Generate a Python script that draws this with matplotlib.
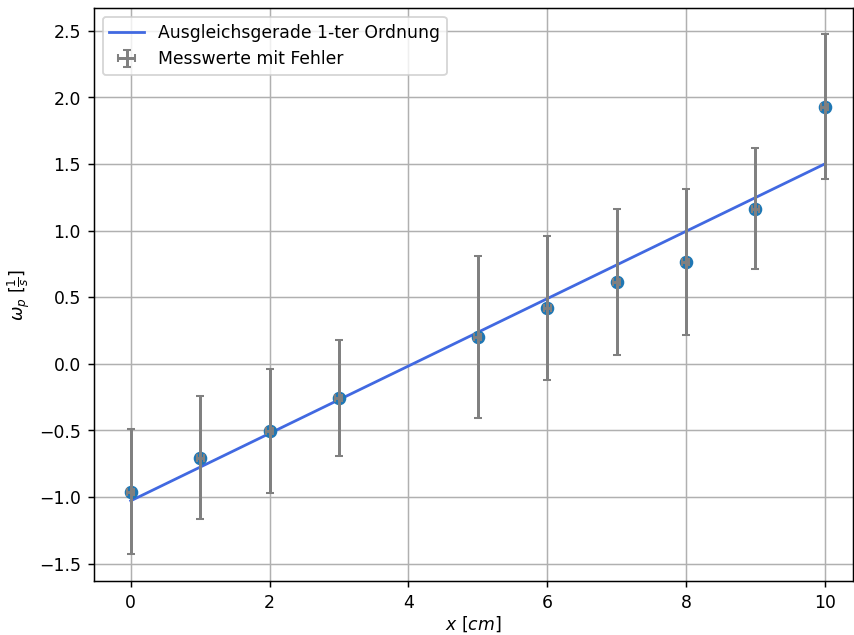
import numpy as np
import matplotlib
matplotlib.use("Agg")
import matplotlib.pyplot as plt

# Messwerte
x = np.array([0, 1, 2, 3, 5, 6, 7, 8, 9, 10])
omega = np.array([-0.96, -0.705, -0.503, -0.255, 0.203, 0.42, 0.615, 0.765, 1.163, 1.929])
omega_err = np.array([0.47, 0.46, 0.465, 0.435, 0.61, 0.54, 0.545, 0.545, 0.455, 0.545])
x_err = np.array([0.05] * 10)

# Ausgleichsgerade
m, b = 0.2528, -1.028
x_fit = np.array([0, 10])

plt.rcParams["font.size"] = 9.3

fig = plt.figure(figsize=(6.4, 4.76), dpi=133.44)
ax = fig.add_axes([0.110, 0.085, 0.889, 0.902])

ax.plot(x_fit, m * x_fit + b, color="royalblue", label="Ausgleichsgerade 1-ter Ordnung", zorder=3)
ax.scatter(x, omega, s=40, color="C0", zorder=4)
ax.errorbar(x, omega, yerr=omega_err, xerr=x_err, fmt="none", ecolor="grey",
            elinewidth=1.6, capsize=2.2, capthick=1.1, label="Messwerte mit Fehler", zorder=5)

ax.set_xlabel(r"$x$ [$cm$]", labelpad=1)
ax.set_ylabel(r"$\omega_p$ [$\frac{1}{s}$]")
ax.set_xlim(-0.53, 10.41)
ax.set_ylim(-1.63, 2.67)
ax.grid(True)
ax.legend(loc="upper left")

plt.savefig("out.png", dpi=133.44)
